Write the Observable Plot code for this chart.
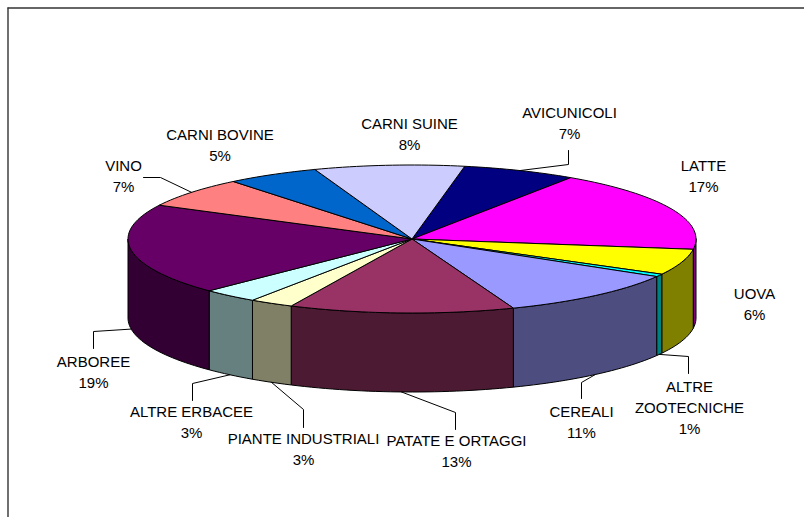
<!DOCTYPE html>
<html>
<head>
<meta charset="utf-8">
<style>html,body{margin:0;padding:0;background:#fff}svg{display:block}</style>
<script src="https://cdn.jsdelivr.net/npm/d3@7"></script>
<script src="https://cdn.jsdelivr.net/npm/@observablehq/plot@0.6"></script>
</head>
<body>
<script>
const categories = ["AVICUNICOLI","LATTE","UOVA","ALTRE\nZOOTECNICHE","CEREALI","PATATE E ORTAGGI","PIANTE INDUSTRIALI","ALTRE ERBACEE","ARBOREE","VINO","CARNI BOVINE","CARNI SUINE"];
const values = [6.47,17.78,5.67,0.58,10.72,12.8,2.5,3.17,19.89,6.61,5.28,8.53];
const percentLabels = ["7%","17%","6%","1%","11%","13%","3%","3%","19%","7%","5%","8%"];
const topColors = ["#000080","#FF00FF","#FFFF00","#00FFFF","#9999FF","#993366","#FFFFCC","#CCFFFF","#660066","#FF8080","#0066CC","#CCCCFF"];
const sideColors = ["#000040","#800080","#808000","#008080","#4D4D80","#4D1A33","#808066","#668080","#330033","#804040","#003366","#666680"];

// Layout, in picture pixels: label centre and leader path from the slice outward
const labelCx = [569,703,754,689,581,456,303,191,93,123,219.5,409];
const labelCy = [121.5,174,302.5,405.5,420,449.5,447.5,420.5,370,174,143.5,132.5];
const elbows = [[[568,164],[568,150]],null,null,[[688,356],[688,373]],[[581,382],[581,398]],[[455,412],[455,429]],[[303,409],[303,427]],[[192,383],[192,400]],[[93,331],[93,348]],[[160,177],[143,177]],null,null];

const startAngle = 10.7, stepDeg = 1.5;
const pieLeft = 127.5, pieRight = 695.5, pieTop = 164.5, pieBottom = 312.5;
const depth = 79 / ((pieBottom - pieTop) / 2);
const ux = px => (px - (pieLeft + pieRight) / 2) / ((pieRight - pieLeft) / 2);
const uy = py => ((pieTop + pieBottom) / 2 - py) / ((pieBottom - pieTop) / 2);
const rad = a => a * Math.PI / 180;
const pt = (a, d = 0) => [Math.sin(rad(a)), Math.cos(rad(a)) - d];
const arc = (a, b, d = 0) => {
  const out = [];
  const n = Math.max(1, Math.ceil((b - a) / stepDeg));
  for (let i = 0; i <= n; i++) out.push(pt(a + (b - a) * i / n, d));
  return out;
};

const total = d3.sum(values);
let acc = startAngle;
const slices = categories.map((name, i) => {
  const a0 = acc; acc += values[i] / total * 360;
  return {name, i, a0, a1: acc, mid: (a0 + acc) / 2};
});

const topRows = [], sideRows = [], leaderRows = [];
for (const s of slices) {
  const push = (rows, pts, color) => pts.forEach(p => rows.push({id: s.i, x: p[0], y: p[1], color}));
  push(topRows, [[0,0], ...arc(s.a0, s.a1), [0,0]], topColors[s.i]);
  const lo = Math.max(s.a0, 90), hi = Math.min(s.a1, 270);
  if (lo < hi) {
    const front = arc(lo, hi), back = arc(lo, hi, depth).reverse();
    push(sideRows, [...front, ...back, front[0]], sideColors[s.i]);
  }
  if (elbows[s.i]) {
    const inFront = s.mid > 90 && s.mid < 270;
    const start = pt(s.mid, inFront ? depth : 0);
    push(leaderRows, [start, ...elbows[s.i].map(([x, y]) => [ux(x), uy(y)])], null);
  }
}

const labelRows = slices.map(s => ({
  x: ux(labelCx[s.i]), y: uy(labelCy[s.i]), text: s.name + "\n" + percentLabels[s.i]
}));

const frameRight = ux(804), frameBottom = uy(517), frameLeft = ux(7.5), frameTop = uy(7.5);

const chart = Plot.plot({
  width: 804, height: 517, margin: 0,
  style: {background: "#fff", fontFamily: "'Liberation Sans', Arial, sans-serif"},
  x: {domain: [-1, 1], range: [pieLeft, pieRight], axis: null},
  y: {domain: [1, -1], range: [pieTop, pieBottom], axis: null},
  color: {type: "identity"},
  marks: [
    Plot.ruleY([frameTop], {x1: frameLeft, x2: frameRight, stroke: "#333", strokeWidth: 1.4}),
    Plot.ruleX([frameLeft], {y1: frameTop, y2: frameBottom, stroke: "#333", strokeWidth: 1.4}),
    Plot.line(sideRows, {x: "x", y: "y", z: "id", fill: "color", stroke: "#000", strokeWidth: 1}),
    Plot.line(topRows, {x: "x", y: "y", z: "id", fill: "color", stroke: "#000", strokeWidth: 1}),
    Plot.line(leaderRows, {x: "x", y: "y", z: "id", stroke: "#000", strokeWidth: 1}),
    Plot.text(labelRows, {x: "x", y: "y", text: "text", fontSize: 15, lineHeight: 1.4, textAnchor: "middle", fill: "#000"})
  ]
});
document.body.appendChild(chart);
</script>
</body>
</html>
